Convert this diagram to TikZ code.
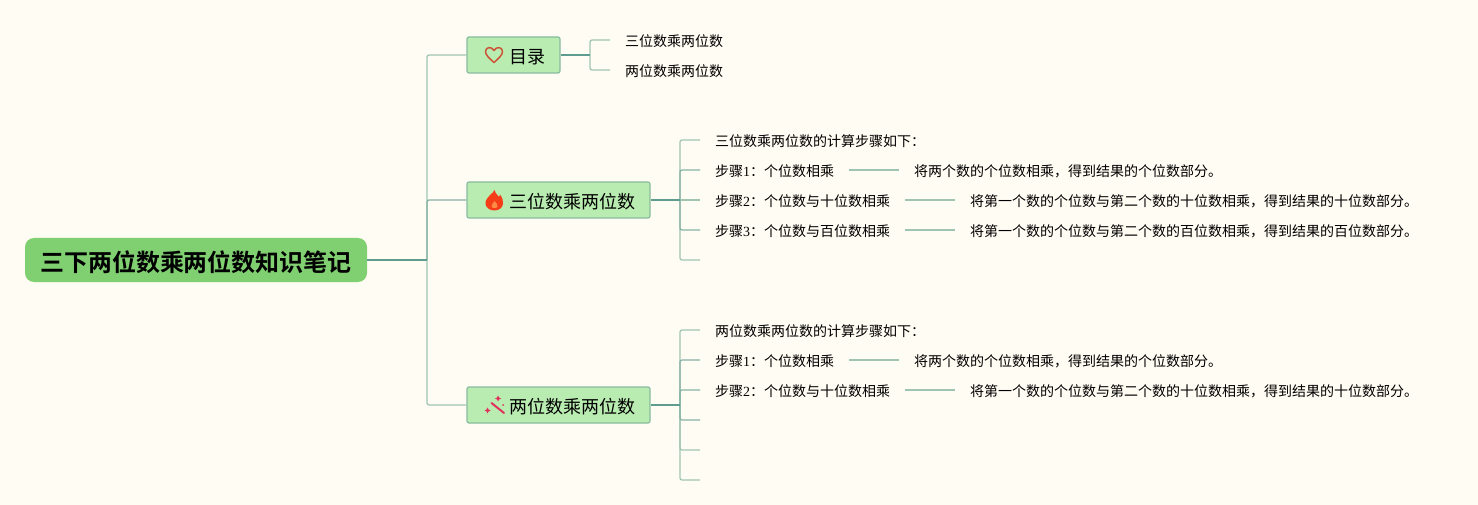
\documentclass[tikz,border=0pt]{standalone}
\usepackage{fontspec}
\setmainfont{Liberation Serif}
\newfontfamily\cjkfont[BoldFont={Noto Sans CJK SC Bold}]{Noto Sans CJK SC}
\definecolor{paper}{HTML}{FFFCF3}
\definecolor{rootgreen}{HTML}{80D072}
\definecolor{boxgreen}{HTML}{B9ECB1}
\definecolor{boxline}{HTML}{88BB9F}
\definecolor{stemdark}{HTML}{5F9C90}
\definecolor{stemmid}{HTML}{86B3A5}
\definecolor{stemlight}{HTML}{A0C4B2}
\definecolor{heartred}{HTML}{CC5438}
\definecolor{flamered}{HTML}{F53E18}
\definecolor{flamelight}{HTML}{FF8C46}
\definecolor{wandpink}{HTML}{E2305C}
\tikzset{
	rootnode/.style={fill=rootgreen,rounded corners=9pt,minimum width=342pt,minimum height=44pt,inner sep=0pt,text height=25pt,text depth=3pt,font=\cjkfont\fontsize{24}{26}\selectfont\bfseries},
	topic/.style={fill=boxgreen,draw=boxline,line width=1.2pt,rounded corners=2pt,minimum height=36pt,inner sep=0pt,text height=19pt,text depth=2.2pt,font=\cjkfont\fontsize{18}{20}\selectfont},
	leaf/.style={anchor=west,inner xsep=15pt,inner ysep=0pt,text height=16pt,text depth=2.4pt,font=\cjkfont\fontsize{14}{16}\selectfont},
	stem/.style={stemdark,line width=1.6pt},
	near/.style={stemmid,line width=1.3pt,rounded corners=2pt},
	far/.style={stemlight,line width=1.3pt,rounded corners=2pt}
}
\begin{document}
\begin{tikzpicture}[x=1pt,y=-1pt]
	\useasboundingbox[fill=paper] (0,0) rectangle (1478,505);

	\node[rootnode] (root) at (196,260) {三下两位数乘两位数知识笔记};
	\coordinate (rootj) at (427,260);

	\node[topic,minimum width=93pt] (mulu) at (513.5,55) {\hspace{27pt}目录};
	\node[topic,minimum width=183pt] (san) at (558.5,200) {\hspace{27pt}三位数乘两位数};
	\node[topic,minimum width=183pt] (liang) at (558.5,405) {\hspace{27pt}两位数乘两位数};

	\coordinate (muluj) at (590,55);
	\coordinate (sanj) at (680,200);
	\coordinate (liangj) at (680,405);

	% 目录
	\node[leaf] (m1) at (610,40) {三位数乘两位数};
	\node[leaf] (m2) at (610,70) {两位数乘两位数};

	% 三位数
	\node[leaf] (a0) at (700,140) {三位数乘两位数的计算步骤如下：};
	\node[leaf] (a1) at (700,170) {步骤{\rmfamily 1}：个位数相乘};
	\node[leaf] (a2) at (700,200) {步骤{\rmfamily 2}：个位数与十位数相乘};
	\node[leaf] (a3) at (700,230) {步骤{\rmfamily 3}：个位数与百位数相乘};
	\coordinate (a4) at (700,260);
	\node[leaf] (a1t) at (899,170) {将两个数的个位数相乘，得到结果的个位数部分。};
	\node[leaf] (a2t) at (955,200) {将第一个数的个位数与第二个数的十位数相乘，得到结果的十位数部分。};
	\node[leaf] (a3t) at (955,230) {将第一个数的个位数与第二个数的百位数相乘，得到结果的百位数部分。};

	% 两位数
	\node[leaf] (b0) at (700,330) {两位数乘两位数的计算步骤如下：};
	\node[leaf] (b1) at (700,360) {步骤{\rmfamily 1}：个位数相乘};
	\node[leaf] (b2) at (700,390) {步骤{\rmfamily 2}：个位数与十位数相乘};
	\coordinate (b3) at (700,420);
	\coordinate (b4) at (700,450);
	\coordinate (b5) at (700,480);
	\node[leaf] (b1t) at (899,360) {将两个数的个位数相乘，得到结果的个位数部分。};
	\node[leaf] (b2t) at (955,390) {将第一个数的个位数与第二个数的十位数相乘，得到结果的十位数部分。};

	% connectors
	\draw[far] (rootj) |- (mulu.west);
	\draw[near] (rootj) |- (san.west);
	\draw[far] (rootj) |- (liang.west);
	\draw[stem] (root.east) -- (rootj);

	\draw[far] (muluj) |- (m1.west);
	\draw[far] (muluj) |- (m2.west);
	\draw[stem] (mulu.east) -- (muluj);

	\draw[far] (sanj) |- (a0.west);
	\draw[far] (sanj) |- (a4);
	\draw[near] (sanj) |- (a1.west);
	\draw[far] (sanj) -- (a2.west);
	\draw[near] (sanj) |- (a3.west);
	\draw[stem] (san.east) -- (sanj);

	\draw[far] (liangj) |- (b0.west);
	\draw[far] (liangj) |- (b5);
	\draw[far] (liangj) |- (b4);
	\draw[near] (liangj) |- (b1.west);
	\draw[near] (liangj) |- (b2.west);
	\draw[near] (liangj) |- (b3);
	\draw[stem] (liang.east) -- (liangj);

	\draw[far] (a1.east) -- (a1t.west);
	\draw[far] (a2.east) -- (a2t.west);
	\draw[far] (a3.east) -- (a3t.west);
	\draw[far] (b1.east) -- (b1t.west);
	\draw[far] (b2.east) -- (b2t.west);

	% icons
	\draw[heartred,line width=1.5pt,line join=round]
		(494,62.5) .. controls (489,58) and (485.5,55) .. (485.5,51.5)
		.. controls (485.5,47) and (491.5,46) .. (494,50.5)
		.. controls (496.5,46) and (502.5,47) .. (502.5,51.5)
		.. controls (502.5,55) and (499,58) .. (494,62.5) -- cycle;

	\fill[flamered]
		(494.5,190) .. controls (495.5,194) and (498,195) .. (499,197)
		.. controls (499.5,196.5) and (500,195.5) .. (500,194.5)
		.. controls (502.5,198) and (503.5,201) .. (503,204)
		.. controls (502.5,208) and (498.5,210.5) .. (494.5,210.5)
		.. controls (490,210.5) and (486,208) .. (485.5,204)
		.. controls (485,200) and (488,197.5) .. (490,195)
		.. controls (491.5,193.5) and (494,192) .. (494.5,190) -- cycle;
	\fill[flamelight]
		(494.5,201) .. controls (496,203) and (498,204.5) .. (497.5,206.5)
		.. controls (497,208.5) and (492,208.5) .. (491.5,206.5)
		.. controls (491,204.5) and (493.5,203.5) .. (494.5,201) -- cycle;

	\draw[wandpink,line width=2pt,line cap=round] (491.5,403) -- (504,413);
	\fill[wandpink]
		(498,395.5) -- (499,397.5) -- (501,398.5) -- (499,399.5) -- (498,401.5) -- (497,399.5) -- (495,398.5) -- (497,397.5) -- cycle;
	\fill[wandpink]
		(487.5,407.5) -- (488.5,409.5) -- (490.5,410.5) -- (488.5,411.5) -- (487.5,413.5) -- (486.5,411.5) -- (484.5,410.5) -- (486.5,409.5) -- cycle;
	\fill[wandpink] (503,405) circle (1pt);
\end{tikzpicture}
\end{document}
